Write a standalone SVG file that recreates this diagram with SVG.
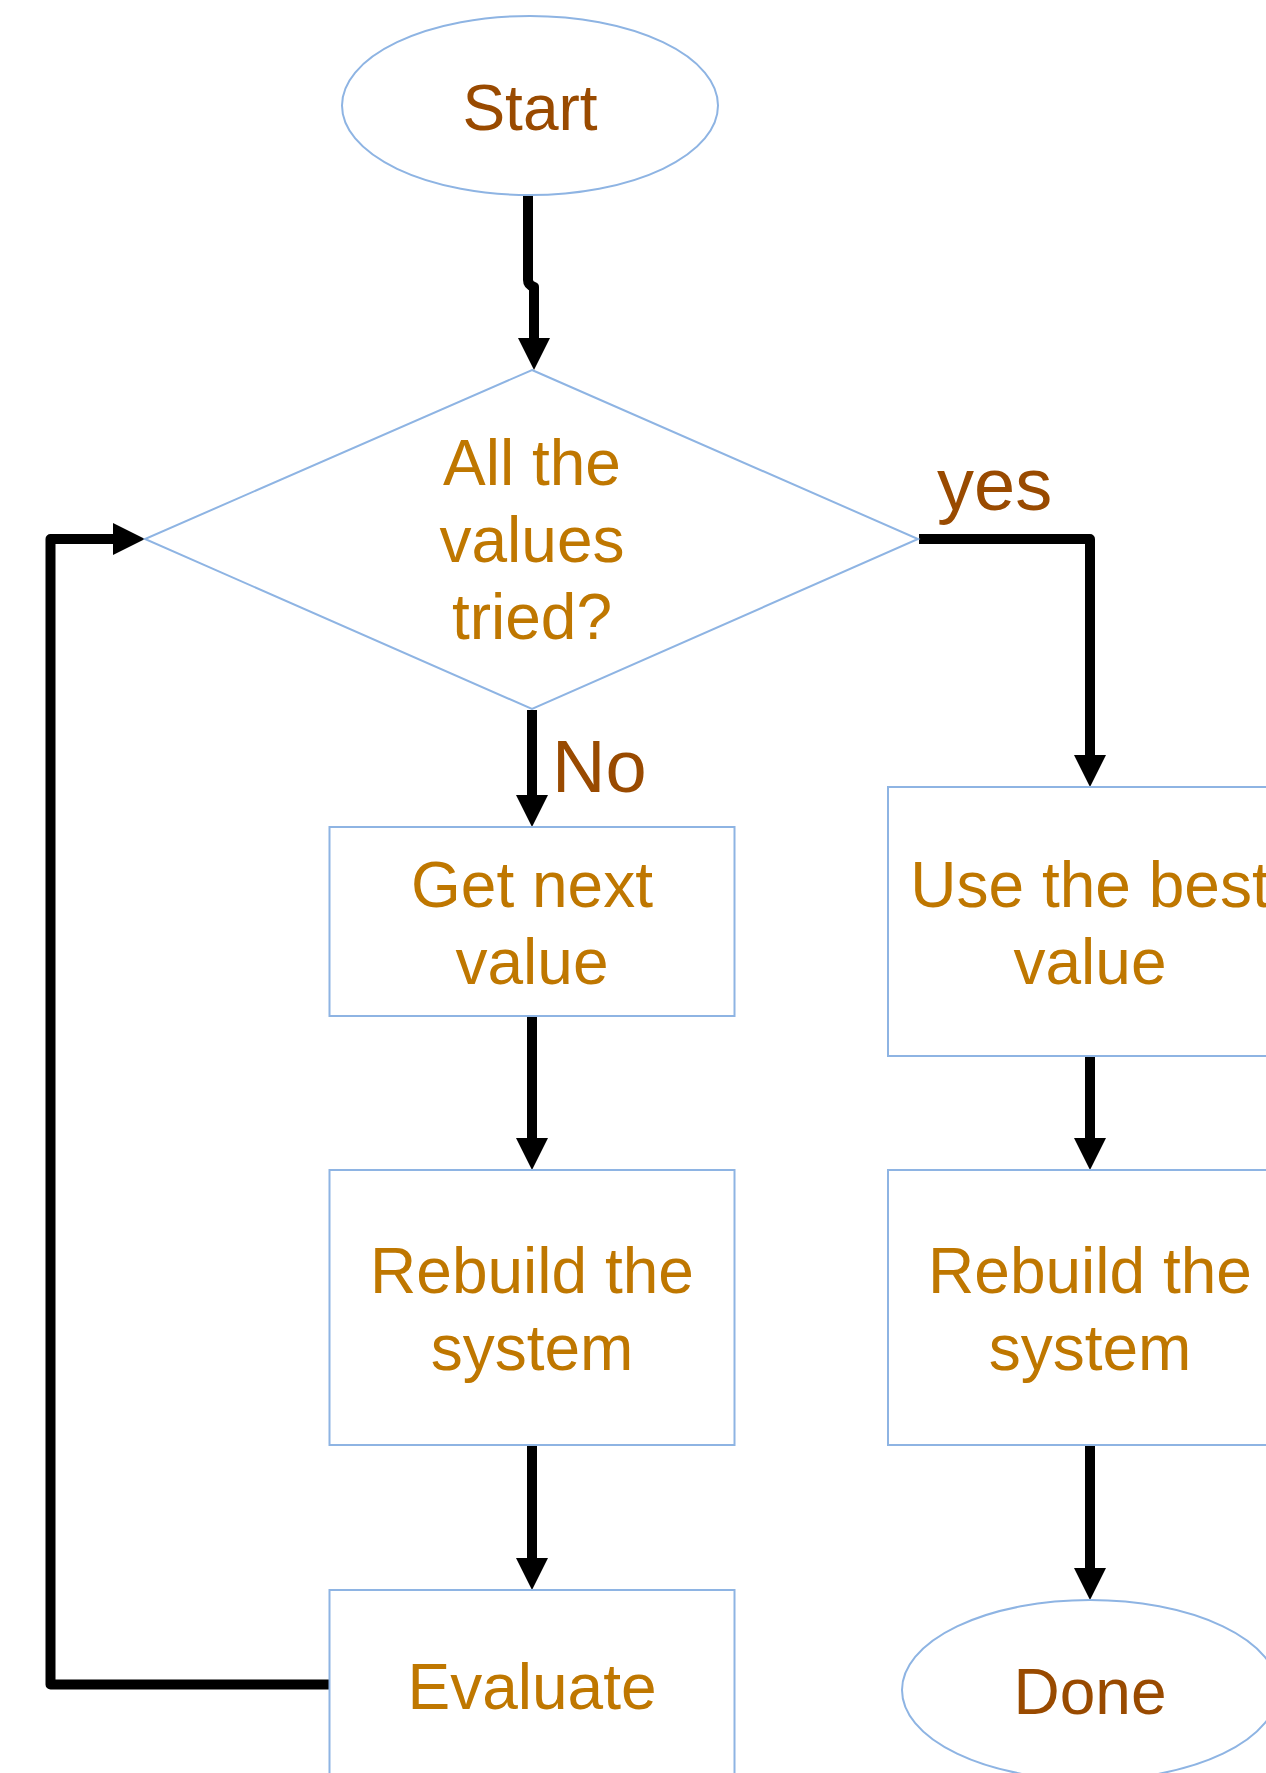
<svg xmlns="http://www.w3.org/2000/svg" width="1266" height="1773" viewBox="0 0 1266 1773">
<defs>
<marker id="arrow" markerUnits="userSpaceOnUse" markerWidth="32" markerHeight="32" viewBox="0 0 32 32" refX="0" refY="16" orient="auto">
<path d="M0,0 L32,16 L0,32 z" fill="#000"/>
</marker>
<style>
.shape{fill:#fff;stroke:#8eb4e3;stroke-width:2}
.txt{font-family:"Liberation Sans",Arial,sans-serif;font-size:64px;fill:#bf7700;text-anchor:middle}
.term{fill:#994a00}
.lbl{font-family:"Liberation Sans",Arial,sans-serif;font-size:74px;fill:#994a00}
.conn{fill:none;stroke:#000;stroke-width:10;stroke-linejoin:round;marker-end:url(#arrow)}
</style>
</defs>
<rect width="1266" height="1773" fill="#fff"/>
<g id="connectors">
<path class="conn" d="M528,195 L528,280 Q528,285 534,287 L534,338"/>
<path class="conn" d="M532,710 L532,795"/>
<path class="conn" d="M532,1016 L532,1138"/>
<path class="conn" d="M532,1445 L532,1558"/>
<path class="conn" d="M329,1684.5 L50.5,1684.5 L50.5,539 L113,539"/>
<path class="conn" d="M919,539 L1090,539 L1090,755"/>
<path class="conn" d="M1090,1057 L1090,1138"/>
<path class="conn" d="M1090,1445 L1090,1568"/>
<text class="lbl" x="552" y="792">No</text>
<text class="lbl" x="937" y="510">yes</text>
</g>
<g id="start">
<ellipse class="shape" cx="530" cy="105.5" rx="188" ry="89.5"/>
<text class="txt term" x="530" y="130">Start</text>
</g>
<g id="decision">
<polygon class="shape" points="532,370 918,539 532,709 145,539"/>
<text class="txt" x="532" y="485">All the</text>
<text class="txt" x="532" y="562">values</text>
<text class="txt" x="532" y="639">tried?</text>
</g>
<g id="getnext">
<rect class="shape" x="329.5" y="827" width="405" height="189"/>
<text class="txt" x="532" y="907">Get next</text>
<text class="txt" x="532" y="984">value</text>
</g>
<g id="rebuild1">
<rect class="shape" x="329.5" y="1170" width="405" height="275"/>
<text class="txt" x="532" y="1293">Rebuild the</text>
<text class="txt" x="532" y="1370">system</text>
</g>
<g id="evaluate">
<rect class="shape" x="329.5" y="1590" width="405" height="220"/>
<text class="txt" x="532" y="1709">Evaluate</text>
</g>
<g id="usebest">
<rect class="shape" x="888" y="787" width="405" height="269"/>
<text class="txt" x="1090" y="907">Use the best</text>
<text class="txt" x="1090" y="984">value</text>
</g>
<g id="rebuild2">
<rect class="shape" x="888" y="1170" width="405" height="275"/>
<text class="txt" x="1090" y="1293">Rebuild the</text>
<text class="txt" x="1090" y="1370">system</text>
</g>
<g id="done">
<ellipse class="shape" cx="1090" cy="1690" rx="188" ry="90"/>
<text class="txt term" x="1090" y="1714">Done</text>
</g>
</svg>
